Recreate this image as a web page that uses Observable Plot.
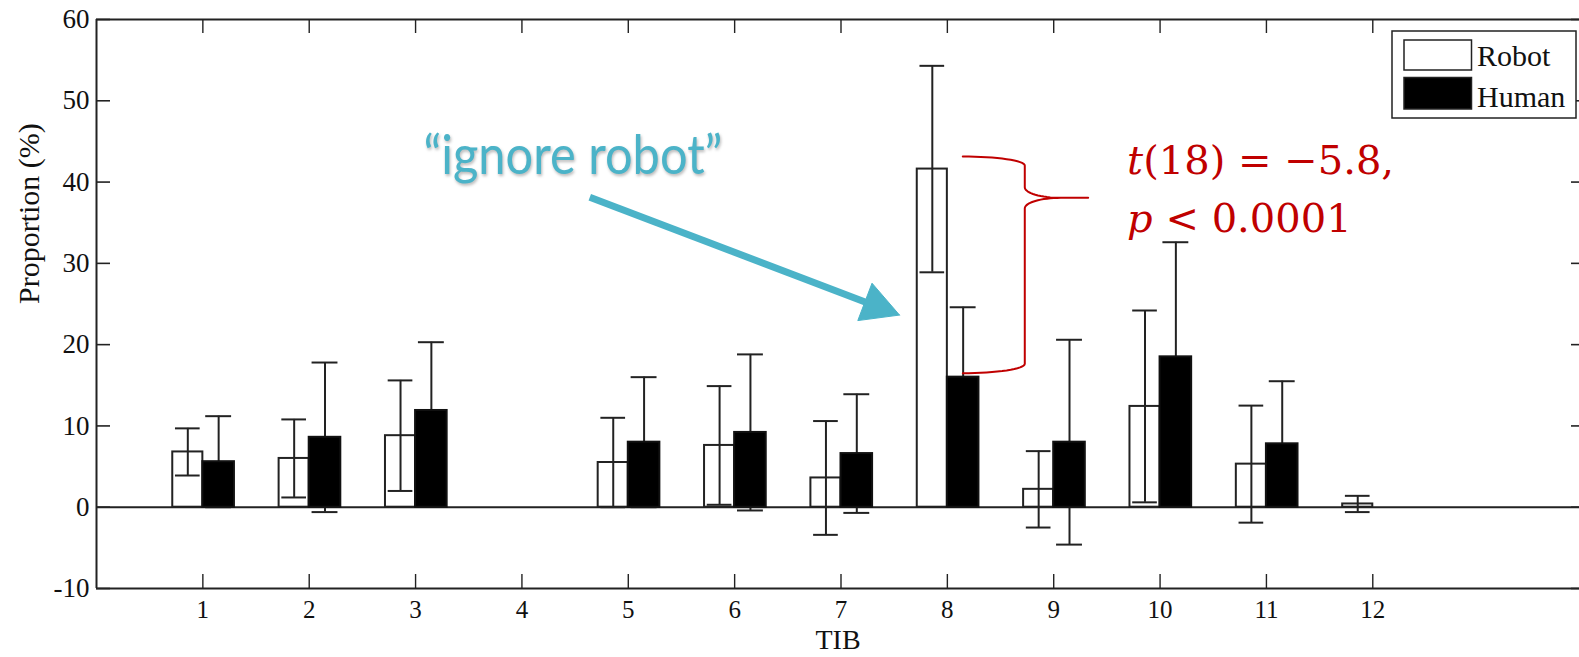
<!DOCTYPE html>
<html>
<head>
<meta charset="utf-8">
<script src="https://cdn.jsdelivr.net/npm/d3@7"></script>
<script src="https://cdn.jsdelivr.net/npm/@observablehq/plot@0.6"></script>
<style>
  html, body { margin: 0; padding: 0; background: #fff; overflow: hidden; }
  #wrap { position: relative; width: 1579px; height: 657px; overflow: hidden; background: #fff; }
  #legend { position: absolute; left: 0; top: 0; }
</style>
</head>
<body>
<div id="wrap"></div>
<script>
// ---------------- data ----------------
const tib = [1, 2, 3, 4, 5, 6, 7, 8, 9, 10, 11, 12];
const robotMean = [6.8, 6.0, 8.8, null, 5.5, 7.6, 3.6, 41.6, 2.2, 12.4, 5.3, 0.4];
const robotErr  = [2.9, 4.8, 6.8, null, 5.5, 7.3, 7.0, 12.7, 4.7, 11.8, 7.2, 1.0];
const humanMean = [5.6, 8.6, 11.9, null, 8.0, 9.2, 6.6, 16.0, 8.0, 18.5, 7.8, null];
const humanErr  = [5.6, 9.2, 8.4, null, 8.0, 9.6, 7.3, 8.6, 12.6, 14.1, 7.7, null];
const xTicks = [1, 2, 3, 4, 5, 6, 7, 8, 9, 10, 11, 12];
const yTicks = [-10, 0, 10, 20, 30, 40, 50, 60];
const seriesNames = ["Robot", "Human"];
const seriesFills = ["#ffffff", "#000000"];
const xLabel = "TIB";
const yLabel = "Proportion (%)";

// annotations (data units)
const noteText = "“ignore robot”";
const notePos = [{x: 3.074, y: 41.0}];
const arrowStart = {x: 4.638, y: 38.14};
const arrowTip = {x: 7.55, y: 23.64};
const statLines = ["t(18) = −5.8,", "p < 0.0001"];
const statPos = [{x: 9.69, y: 41.0}, {x: 9.69, y: 33.8}];
const brace = {xL: 8.145, xM: 8.728, xTip: 9.324, yTop: 43.14, yTip: 38.06, yBot: 16.49};

// ---------------- layout ----------------
const W = 1579, H = 657;
const xDomain = [0, 14], yDomain = [-10, 60];
const xRange = [96, 1585], yRange = [588, 19];
const pxX = (xRange[1] - xRange[0]) / (xDomain[1] - xDomain[0]);
const pxY = (yRange[0] - yRange[1]) / (yDomain[1] - yDomain[0]);
const toPxX = x => xRange[0] + (x - xDomain[0]) * pxX;
const toPxY = y => yRange[0] - (y - yDomain[0]) * pxY;
const toDX = px => xDomain[0] + (px - xRange[0]) / pxX;
const toDY = py => yDomain[0] + (yRange[0] - py) / pxY;
const TICK = 14;
const teal = "#4BB3C8", red = "#C00000", ink = "#222";

// rows
const rows = [];
tib.forEach((t, i) => {
  if (robotMean[i] != null) rows.push({tib: t, group: "Robot", mean: robotMean[i], err: robotErr[i]});
  if (humanMean[i] != null) rows.push({tib: t, group: "Human", mean: humanMean[i], err: humanErr[i]});
});
const barW = {Robot: 0.283, Human: 0.297};
const bx1 = d => d.group === "Robot" ? d.tib - barW.Robot : d.tib;
const bx2 = d => d.group === "Robot" ? d.tib : d.tib + barW.Human;
const bxc = d => (bx1(d) + bx2(d)) / 2;
const cap = d => barW[d.group] * 0.41;
const robotRows = rows.filter(d => d.group === "Robot");
const humanRows = rows.filter(d => d.group === "Human");

function errorMarks(data) {
  return [
    Plot.ruleX(data, {x: bxc, y1: d => d.mean - d.err, y2: d => d.mean + d.err, stroke: ink, strokeWidth: 2}),
    Plot.ruleY(data, {y: d => d.mean + d.err, x1: d => bxc(d) - cap(d), x2: d => bxc(d) + cap(d), stroke: ink, strokeWidth: 2}),
    Plot.ruleY(data, {y: d => d.mean - d.err, x1: d => bxc(d) - cap(d), x2: d => bxc(d) + cap(d), stroke: ink, strokeWidth: 2})
  ];
}

// brace path (built in pixels, converted to data)
function bracePoints() {
  const L = toPxX(brace.xL), M = toPxX(brace.xM), T = toPxX(brace.xTip);
  const yt = toPxY(brace.yTop), yc = toPxY(brace.yTip), yb = toPxY(brace.yBot);
  const a1 = 9, a2 = 9.4, b = 10.6, w = 36, n = 16;
  const half = (yEnd, a, s) => {
    const p = [];
    for (let i = 0; i <= n; i++) {
      const th = i / n * Math.PI / 2;
      p.push([L + (M - L) * Math.sin(th), yEnd + s * (a - a * Math.cos(th))]);
    }
    for (let i = 0; i <= n; i++) {
      const th = i / n * Math.PI / 2;
      p.push([M + w - w * Math.cos(th), yc - s * b + s * b * Math.sin(th)]);
    }
    p.push([T, yc]);
    return p;
  };
  const top = half(yt, a1, 1);
  const bot = half(yb, a2, -1).reverse();
  return top.concat(bot).map(([px, py]) => ({x: toDX(px), y: toDY(py)}));
}

// arrow head (pixel geometry -> data)
function arrowGeometry() {
  const S = [toPxX(arrowStart.x), toPxY(arrowStart.y)];
  const P = [toPxX(arrowTip.x), toPxY(arrowTip.y)];
  const dx = P[0] - S[0], dy = P[1] - S[1], len = Math.hypot(dx, dy);
  const u = [dx / len, dy / len], pp = [-u[1], u[0]];
  const headLen = 37, halfW = 20;
  const B = [P[0] - headLen * u[0], P[1] - headLen * u[1]];
  const head = [P, [B[0] + halfW * pp[0], B[1] + halfW * pp[1]], [B[0] - halfW * pp[0], B[1] - halfW * pp[1]], P]
    .map(([px, py]) => ({x: toDX(px), y: toDY(py)}));
  const shaftEnd = {x: toDX(B[0] + 3 * u[0]), y: toDY(B[1] + 3 * u[1])};
  return {head, shaft: [{x1: arrowStart.x, y1: arrowStart.y, x2: shaftEnd.x, y2: shaftEnd.y}]};
}
const arrow = arrowGeometry();

const chart = Plot.plot({
  width: W,
  height: H,
  marginLeft: xRange[0],
  marginRight: 0,
  marginTop: yRange[1],
  marginBottom: H - yRange[0],
  x: {domain: xDomain, range: xRange, axis: null},
  y: {domain: yDomain, range: yRange, axis: null},
  style: {fontFamily: "'Liberation Serif', serif", background: "#fff", color: "#111"},
  marks: [
    // zero line
    Plot.ruleY([0], {stroke: ink, strokeWidth: 2}),
    // human error bars first (hidden inside the black bars), then bars, then robot error bars
    ...errorMarks(humanRows),
    Plot.rectY(robotRows, {x1: bx1, x2: bx2, y1: 0, y2: "mean", fill: seriesFills[0], stroke: ink, strokeWidth: 2}),
    Plot.rectY(humanRows, {x1: bx1, x2: bx2, y1: 0, y2: "mean", fill: seriesFills[1], stroke: "#111", strokeWidth: 2}),
    ...errorMarks(robotRows),
    // box
    Plot.ruleX(xDomain, {stroke: ink, strokeWidth: 2}),
    Plot.ruleY(yDomain, {stroke: ink, strokeWidth: 2}),
    // inward ticks
    Plot.ruleY(yTicks, {y: d => d, x1: xDomain[0], x2: xDomain[0] + TICK / pxX, stroke: ink, strokeWidth: 1.6}),
    Plot.ruleY(yTicks, {y: d => d, x1: xDomain[1], x2: xDomain[1] - TICK / pxX, stroke: ink, strokeWidth: 1.6}),
    Plot.ruleX(xTicks, {x: d => d, y1: yDomain[0], y2: yDomain[0] + TICK / pxY, stroke: ink, strokeWidth: 1.4}),
    Plot.ruleX(xTicks, {x: d => d, y1: yDomain[1], y2: yDomain[1] - TICK / pxY, stroke: ink, strokeWidth: 1.4}),
    // tick labels
    Plot.axisY(yTicks, {tickSize: 0, tickPadding: 7, label: null, fontSize: 27, tickFormat: d => String(d),
      stroke: "#111", strokeWidth: 0.6}),
    Plot.axisX(xTicks, {tickSize: 0, tickPadding: 12, label: null, fontSize: 25, tickFormat: d => String(d),
      stroke: "#111", strokeWidth: 0.4}),
    // axis titles
    Plot.text([xLabel], {frameAnchor: "bottom", dy: 60, lineAnchor: "bottom", fontSize: 28, text: d => d}),
    Plot.text([yLabel], {frameAnchor: "left", rotate: -90, dx: -67.5, lineAnchor: "middle", fontSize: 30, text: d => d}),
    // brace
    Plot.line(bracePoints(), {x: "x", y: "y", stroke: red, strokeWidth: 2, curve: "linear"}),
    // arrow
    Plot.link(arrow.shaft, {x1: "x1", y1: "y1", x2: "x2", y2: "y2", stroke: teal, strokeWidth: 7, strokeLinecap: "butt"}),
    Plot.line(arrow.head, {x: "x", y: "y", fill: teal, stroke: teal, strokeWidth: 1}),
    // annotation texts
    Plot.text(notePos, {x: "x", y: "y", text: () => noteText, textAnchor: "start", lineAnchor: "bottom",
      fill: teal, fontSize: 54, fontFamily: "Lato, 'Open Sans', sans-serif"}),
    Plot.text(statPos, {x: "x", y: "y", text: (d, i) => statLines[i], textAnchor: "start", lineAnchor: "bottom",
      fill: red, fontSize: 40, fontFamily: "'DejaVu Serif', serif"})
  ]
});

// post-process annotation text styling
d3.select(chart).selectAll("text").each(function () {
  const t = this.textContent;
  if (t === noteText) {
    this.setAttribute("textLength", "299");
    this.setAttribute("lengthAdjust", "spacingAndGlyphs");
    this.style.filter = "drop-shadow(1.5px 2px 1.5px rgba(0,0,0,0.28))";
  } else if (statLines.includes(t)) {
    const first = t[0], rest = t.slice(1);
    this.textContent = "";
    const s1 = document.createElementNS("http://www.w3.org/2000/svg", "tspan");
    s1.setAttribute("font-style", "italic");
    s1.textContent = first;
    const s2 = document.createElementNS("http://www.w3.org/2000/svg", "tspan");
    s2.textContent = rest;
    this.appendChild(s1);
    this.appendChild(s2);
  }
});

const wrap = document.getElementById("wrap");
wrap.appendChild(chart);

// legend (overlay inside the axes, top-right)
const lg = d3.select(wrap).append("svg").attr("id", "legend").attr("width", W).attr("height", H);
lg.append("rect").attr("x", 1392).attr("y", 31).attr("width", 184).attr("height", 87)
  .attr("fill", "#fff").attr("stroke", ink).attr("stroke-width", 1.5);
const swY = [40, 77.5], swH = [30, 31.5], txtY = [65.5, 106.5];
seriesNames.forEach((name, i) => {
  lg.append("rect").attr("x", 1404).attr("y", swY[i]).attr("width", 67.5).attr("height", swH[i])
    .attr("fill", seriesFills[i]).attr("stroke", ink).attr("stroke-width", 1.5);
  lg.append("text").attr("x", 1477).attr("y", txtY[i]).text(name)
    .attr("font-family", "'Liberation Serif', serif").attr("font-size", 30).attr("fill", "#111");
});
</script>
</body>
</html>
